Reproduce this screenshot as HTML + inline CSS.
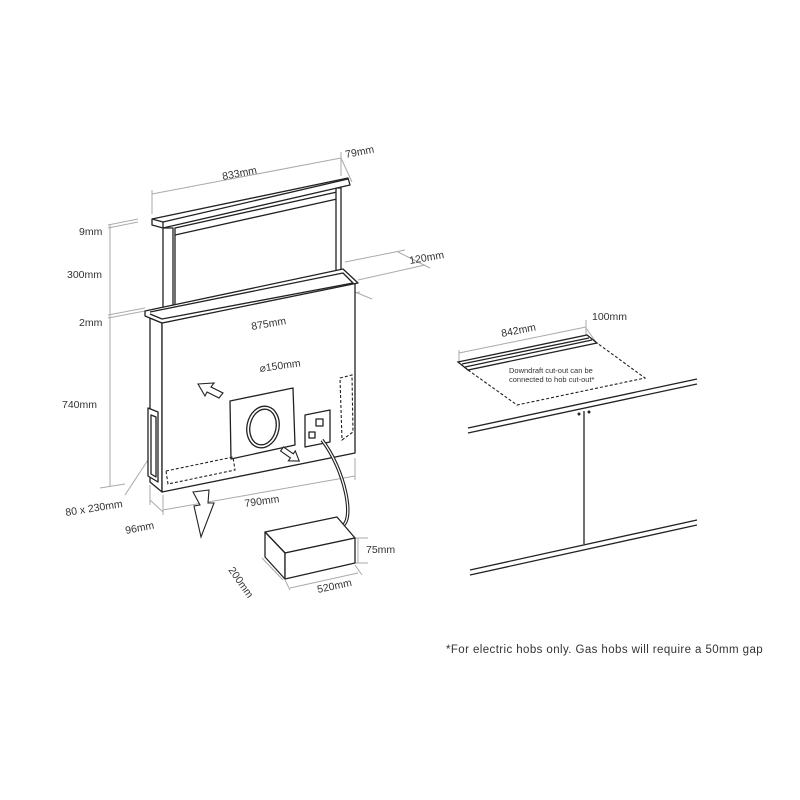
<!DOCTYPE html>
<html><head><meta charset="utf-8"><style>
html,body{margin:0;padding:0;background:#fff;}
svg{display:block}
text{font-family:"Liberation Sans",sans-serif;fill:#333;font-size:10.5px}
</style></head><body>
<svg width="800" height="800" viewBox="0 0 800 800" xmlns="http://www.w3.org/2000/svg">
<g stroke="#aaa" stroke-width="1" fill="none">
<line x1="152" y1="194" x2="341" y2="158"/>
<line x1="152" y1="190" x2="152" y2="214"/>
<line x1="341" y1="152" x2="341" y2="176"/>
<line x1="341" y1="158" x2="352" y2="182"/>
<line x1="110" y1="225" x2="110" y2="487"/>
<line x1="108" y1="225" x2="138" y2="219"/>
<line x1="108" y1="228" x2="138" y2="222"/>
<line x1="108" y1="315" x2="145" y2="308"/>
<line x1="108" y1="318" x2="145" y2="311"/>
<line x1="100" y1="488" x2="125" y2="484"/>
<line x1="345" y1="262" x2="405" y2="250"/>
<line x1="358" y1="280" x2="425" y2="265"/>
<line x1="398" y1="252" x2="430" y2="268"/>
<line x1="172" y1="327" x2="360" y2="292"/>
<line x1="350" y1="290" x2="372" y2="299"/>
<line x1="165" y1="322" x2="178" y2="333"/>
<line x1="163" y1="510" x2="355" y2="476"/>
<line x1="163" y1="495" x2="163" y2="515"/>
<line x1="355" y1="458" x2="355" y2="480"/>
<line x1="150" y1="485" x2="150" y2="505"/>
<line x1="150" y1="500" x2="163" y2="512"/>
<line x1="125" y1="495" x2="148" y2="460"/>
<line x1="358" y1="538" x2="358" y2="563"/>
<line x1="355" y1="538" x2="368" y2="538"/>
<line x1="355" y1="563" x2="368" y2="563"/>
<line x1="262" y1="558" x2="283" y2="580"/>
<line x1="285" y1="580" x2="290" y2="590"/>
<line x1="290" y1="588" x2="358" y2="573"/>
<line x1="355" y1="565" x2="362" y2="575"/>
<line x1="260" y1="378" x2="295" y2="372"/>
<line x1="260" y1="378" x2="260" y2="425"/>
<line x1="459" y1="350" x2="459" y2="362"/>
<line x1="459" y1="353" x2="586" y2="327"/>
<line x1="586" y1="320" x2="586" y2="338"/>
<line x1="586" y1="328" x2="596" y2="342"/>
</g>
<g stroke="#222" stroke-width="1.3" fill="#fff" stroke-linejoin="round">
<polygon points="175,228 337,192 337,290 175,320"/>
<line x1="175" y1="235" x2="337" y2="199"/>
<rect x="163" y="228" width="10" height="95"/>
<rect x="336" y="188" width="5" height="90"/>
<polygon points="152,219 348,178 350,185 163,228 152,225"/>
<line x1="152" y1="219" x2="163" y2="222"/>
<line x1="163" y1="222" x2="163" y2="228"/>
<line x1="163" y1="222" x2="348" y2="179"/>
<polygon points="150,318 162,323 162,492 150,482"/>
<polygon points="162,323 355,283 355,453 162,492"/>
<polygon points="145,311 343,269 358,283 162,323 145,316"/>
<polyline points="150,312 343,273 353,283 162,319 150,314" fill="none"/>
<path d="M148,408 l10,4 l0,70 l-10,-6 z"/>
<path d="M151,415 l5,2 l0,60 l-5,-3 z" fill="none"/>
<polygon points="230,401 293,388 295,445 231,459"/>
<ellipse cx="263" cy="427" rx="16" ry="21" transform="rotate(12 263 427)"/>
<ellipse cx="263" cy="427" rx="13" ry="18" fill="none" transform="rotate(12 263 427)"/>
<polygon points="305,415 330,410 330,442 305,447"/>
<rect x="316" y="419" width="7" height="7" fill="none"/>
<rect x="309" y="432" width="6" height="6" fill="none"/>
<path d="M322,440 C345,470 355,520 342,526" fill="none" stroke-width="3.5"/>
<path d="M322,440 C345,470 355,520 342,526" fill="none" stroke="#fff" stroke-width="1.3"/>
<polygon points="265,532 337,517 355,538 285,553"/>
<polygon points="265,532 285,553 285,579 265,557"/>
<polygon points="285,553 355,538 355,563 285,579"/>
</g>
<g stroke="#222" stroke-width="1.1" fill="none" stroke-dasharray="3,2">
<polygon points="166,471 233,457 235,470 168,484"/>
<polygon points="340,378 352,375 353,432 342,440"/>
<polyline points="468,370 517,405 645,378 597,343"/>
</g>
<g stroke="#222" stroke-width="1.1" fill="#fff">
<polygon points="198,384 214,383 211,387 223,393 219,398 207,392 205,396"/>
<polygon points="0,-2.5 12,-2.5 12,-6 21,0 12,6 12,2.5 0,2.5" transform="translate(282,449) rotate(35)"/>
<polygon points="193,492 209,490 208,503 214,503 201,537 194,506 200,505"/>
</g>
<g stroke="#222" stroke-width="1.3" fill="none">
<polygon points="458,362 587,335 597,343 468,370" fill="#fff"/>
<line x1="462" y1="364" x2="589" y2="338"/>
<line x1="465" y1="367" x2="592" y2="340"/>
<line x1="468" y1="428" x2="697" y2="379"/>
<line x1="468" y1="433" x2="697" y2="384"/>
<line x1="470" y1="570" x2="697" y2="520"/>
<line x1="470" y1="575" x2="697" y2="525"/>
<line x1="584" y1="411" x2="584" y2="544"/>
</g>
<circle cx="579" cy="414" r="1.5" fill="#222"/>
<circle cx="589" cy="412" r="1.5" fill="#222"/>
<text x="223" y="180" transform="rotate(-11 223 180)">833mm</text>
<text x="346" y="158" transform="rotate(-11 346 158)">79mm</text>
<text x="79" y="235">9mm</text>
<text x="67" y="278">300mm</text>
<text x="79" y="326">2mm</text>
<text x="62" y="408">740mm</text>
<text x="66" y="516" transform="rotate(-9 66 516)">80 x 230mm</text>
<text x="126" y="534" transform="rotate(-11 126 534)">96mm</text>
<text x="410" y="264" transform="rotate(-10 410 264)">120mm</text>
<text x="252" y="330" transform="rotate(-10 252 330)">875mm</text>
<text x="260" y="372" transform="rotate(-8 260 372)">⌀150mm</text>
<text x="245" y="507" transform="rotate(-8 245 507)">790mm</text>
<text x="366" y="553">75mm</text>
<text x="228" y="570" transform="rotate(55 228 570)">200mm</text>
<text x="318" y="593" transform="rotate(-12 318 593)">520mm</text>
<text x="502" y="337" transform="rotate(-11 502 337)">842mm</text>
<text x="592" y="320">100mm</text>
<text x="509" y="373" style="font-size:7.5px">Downdraft cut-out can be</text>
<text x="509" y="382" style="font-size:7.5px">connected to hob cut-out*</text>
<text x="446" y="653" style="font-size:11.5px;letter-spacing:0.35px" textLength="317" lengthAdjust="spacing">*For electric hobs only. Gas hobs will require a 50mm gap</text>
</svg>
</body></html>
